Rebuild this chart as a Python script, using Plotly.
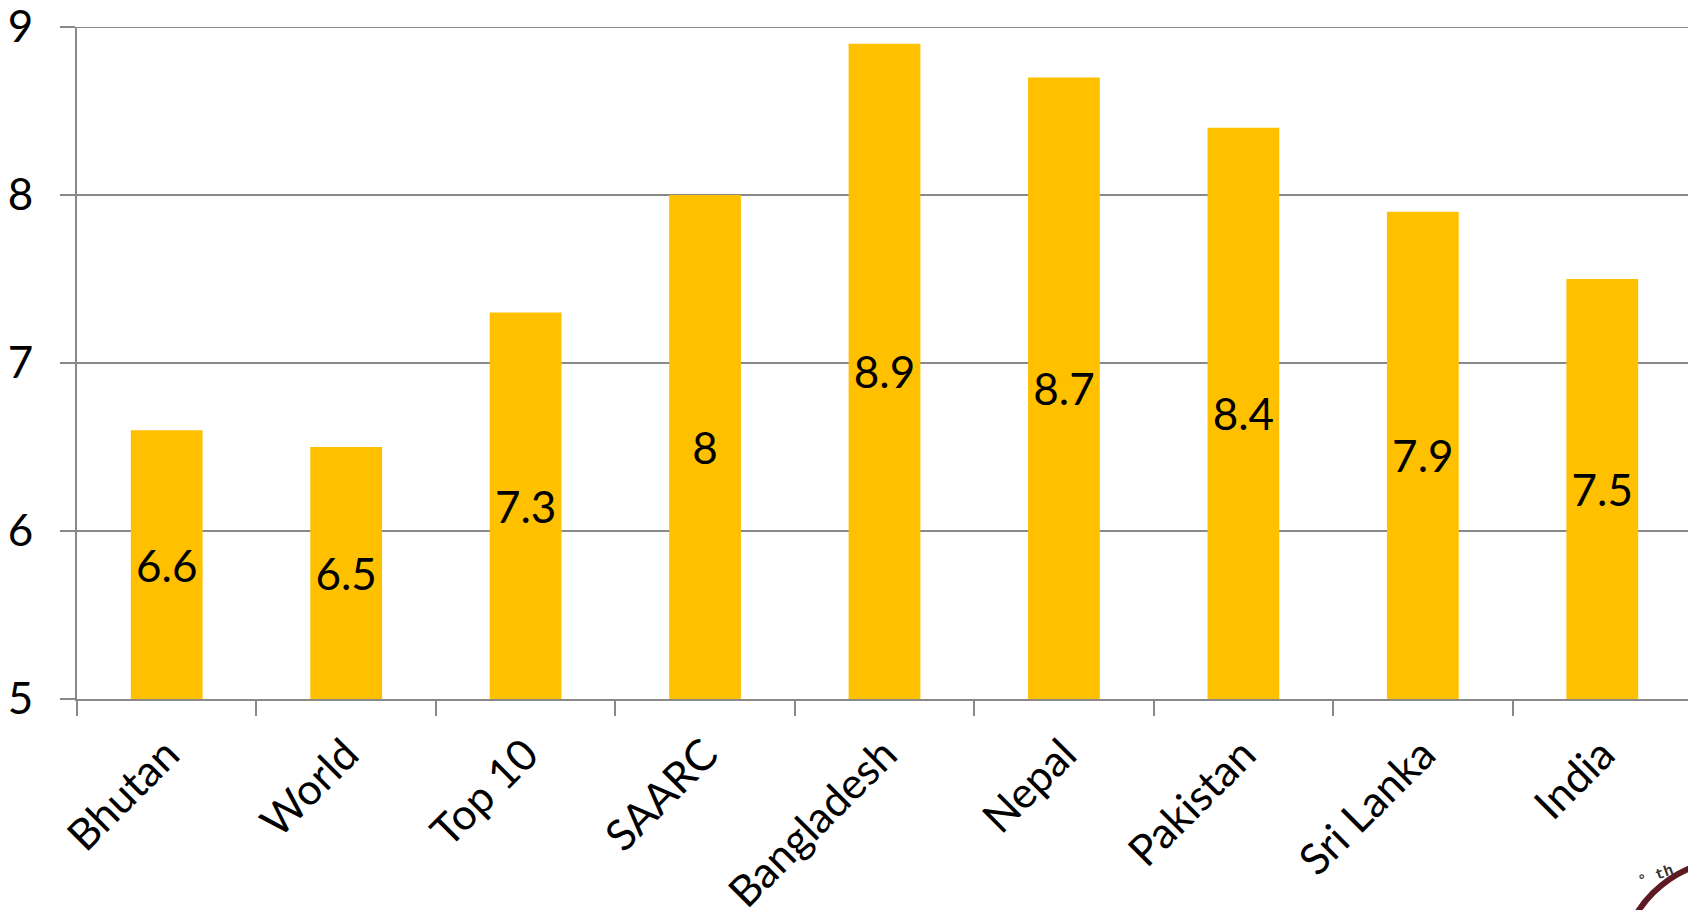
import plotly.graph_objects as go

categories = ["Bhutan", "World", "Top 10", "SAARC", "Bangladesh", "Nepal", "Pakistan", "Sri Lanka", "India"]
values = [6.6, 6.5, 7.3, 8, 8.9, 8.7, 8.4, 7.9, 7.5]
y_ticks = [5, 6, 7, 8, 9]
axis_base = 5

FONT = "Lato, 'Open Sans', sans-serif"
# page has an 8px body margin; size the figure so it fills the 1696x910 window
PAGE_OFF = 8
W, H = 1696 - PAGE_OFF, 910 - PAGE_OFF
L, R, T, B = 77 - PAGE_OFF, 4, 27 - PAGE_OFF, 211

fig = go.Figure()
fig.add_trace(go.Bar(
    x=categories,
    y=[v - axis_base for v in values],
    base=axis_base,
    text=[f"{v:g}" for v in values],
    textposition="inside",
    insidetextanchor="middle",
    textangle=0,
    textfont=dict(family=FONT, size=44, color="black"),
    marker=dict(color="#FFC000", line=dict(width=0)),
    width=0.4,
    hoverinfo="skip",
    cliponaxis=False,
))

# decorative stamp edge at bottom-right
pw = W - L - R
ph = H - T - B
cx, cy, r = 1735 - PAGE_OFF, 975 - PAGE_OFF, 116
fig.add_shape(type="circle", xref="paper", yref="paper",
              x0=(cx - r - L) / pw, x1=(cx + r - L) / pw,
              y0=(H - B - (cy + r)) / ph, y1=(H - B - (cy - r)) / ph,
              line=dict(color="#5E1A22", width=6), fillcolor="rgba(0,0,0,0)", layer="above")
fig.add_annotation(text="<b>° th</b>", xref="paper", yref="paper",
                   x=(1678 - PAGE_OFF - L) / pw, y=(H - B - (893 - PAGE_OFF)) / ph,
                   showarrow=False, textangle=-20,
                   font=dict(family="Liberation Mono, monospace", size=15, color="#333333"))

# top gridline at 9 (coincides with plot edge)
fig.add_shape(type="line", xref="paper", yref="y", x0=0, x1=1, y0=9, y1=9,
              line=dict(color="#898989", width=2), layer="below")

fig.update_layout(
    width=W, height=H,
    margin=dict(l=L, r=R, t=T, b=B, autoexpand=False),
    plot_bgcolor="white", paper_bgcolor="white",
    showlegend=False,
    font=dict(family=FONT, color="black"),
    uniformtext=dict(mode=False),
)
fig.update_yaxes(
    range=[5, 9], tickvals=y_ticks, ticktext=[str(t) for t in y_ticks],
    showgrid=True, gridcolor="#898989", gridwidth=2,
    showline=True, linecolor="#898989", linewidth=2,
    ticks="outside", ticklen=15, tickcolor="#898989", tickwidth=2,
    tickfont=dict(family=FONT, size=44, color="black"),
    ticklabelstandoff=18,
    ticklabeloverflow="allow",
    zeroline=False,
    automargin=False,
)
fig.update_xaxes(
    showline=True, linecolor="#898989", linewidth=2,
    ticks="outside", ticklen=15, tickcolor="#898989", tickwidth=2,
    tickson="boundaries",
    tickangle=-45,
    tickfont=dict(family=FONT, size=43, color="black"),
    ticklabelstandoff=11,
    ticklabeloverflow="allow",
    showgrid=False,
    automargin=False,
)

fig.write_html("out.html")
